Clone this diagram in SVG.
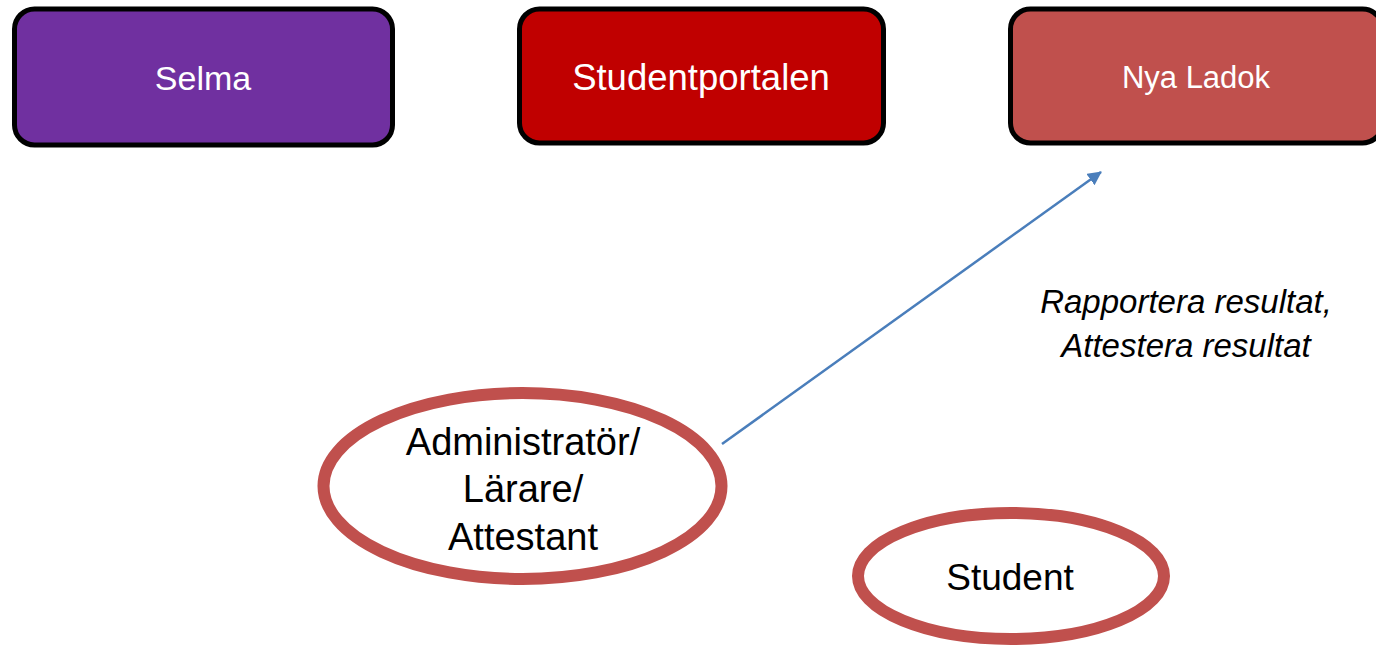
<svg xmlns="http://www.w3.org/2000/svg" width="1376" height="645" viewBox="0 0 1376 645">
<style>
.box{stroke:#000;stroke-width:5}
.wt{fill:#fff;font-family:"Liberation Sans",Arial,sans-serif;text-anchor:middle}
.actor{fill:#fff;stroke:#C0504D;stroke-width:12}
.bt{fill:#000;font-family:"Liberation Sans",Arial,sans-serif;text-anchor:middle}
.it{fill:#000;font-family:"Liberation Sans",Arial,sans-serif;font-style:italic;text-anchor:middle;font-size:33px}
</style>
<defs>
<marker id="ah" markerWidth="14" markerHeight="14" refX="13" refY="7" orient="auto" markerUnits="userSpaceOnUse" viewBox="0 0 14 14">
<path d="M0,0 L14,7 L0,14 z" fill="#4A7EBB"/>
</marker>
</defs>
<rect width="1376" height="645" fill="#fff"/>
<g id="selma">
<rect class="box" x="14.5" y="9" width="378" height="136" rx="20" fill="#7030A0"/>
<text class="wt" x="203" y="90" font-size="34">Selma</text>
</g>
<g id="studentportalen">
<rect class="box" x="519.5" y="9" width="364" height="134" rx="20" fill="#C00000"/>
<text class="wt" x="701" y="90" font-size="36.5">Studentportalen</text>
</g>
<g id="nyaladok">
<rect class="box" x="1010.5" y="9" width="372" height="134" rx="20" fill="#C0504D"/>
<text class="wt" x="1196" y="88" font-size="31">Nya Ladok</text>
</g>
<g id="connectors">
<line x1="722" y1="444" x2="1101" y2="172" stroke="#4A7EBB" stroke-width="2.5" marker-end="url(#ah)"/>
</g>
<g id="label">
<text class="it" x="1186" y="313">Rapportera resultat,</text>
<text class="it" x="1186" y="357">Attestera resultat</text>
</g>
<g id="admin">
<ellipse class="actor" cx="522.5" cy="486" rx="199" ry="93"/>
<text class="bt" x="523" y="455" font-size="38">Administratör/</text>
<text class="bt" x="523" y="502" font-size="38">Lärare/</text>
<text class="bt" x="523" y="550" font-size="38">Attestant</text>
</g>
<g id="student">
<ellipse class="actor" cx="1011" cy="576" rx="153" ry="63"/>
<text class="bt" x="1010" y="590" font-size="37">Student</text>
</g>
</svg>
